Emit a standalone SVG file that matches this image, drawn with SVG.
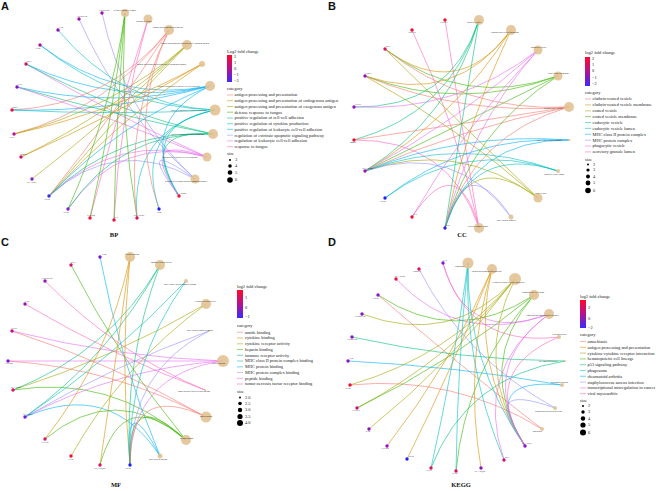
<svg xmlns="http://www.w3.org/2000/svg" width="656" height="491" viewBox="0 0 656 491">
<defs>
<linearGradient id="fc" x1="0" y1="0" x2="0" y2="1">
<stop offset="0" stop-color="#FF0A2A"/><stop offset="0.5" stop-color="#B5118F"/><stop offset="1" stop-color="#3A2AFF"/>
</linearGradient>
</defs>
<style>
.e{fill:none;stroke-width:.7;opacity:.85}
.k{stroke-width:1.1;opacity:.5}
.c1{stroke:#F8766D}.c2{stroke:#D89000}.c3{stroke:#A3A500}.c4{stroke:#39B600}.c5{stroke:#00BF7D}
.c6{stroke:#00BFC4}.c7{stroke:#00B0F6}.c8{stroke:#9590FF}.c9{stroke:#E76BF3}.c10{stroke:#FF62BC}
.cat{fill:#E3C293;opacity:.9}
text{font-family:"Liberation Serif",serif;fill:#111}
.n{font-size:2.2px;text-anchor:middle}
.cl{font-size:2.1px}
.lg{font-size:4.4px;fill:#1a1a1a}
.lt{font-size:4.5px;fill:#1a1a1a}
.ttl{font-size:6.5px;font-weight:bold;text-anchor:middle}
.pl{font-family:"Liberation Sans",sans-serif;font-size:11px;font-weight:bold}
</style>
<rect width="656" height="491" fill="#fff"/>

<text class="pl" x="1" y="10">A</text>
<text class="pl" x="328" y="10">B</text>
<text class="pl" x="1" y="246">C</text>
<text class="pl" x="328" y="246">D</text>
<text class="ttl" x="114" y="237">BP</text>
<text class="ttl" x="462" y="237">CC</text>
<text class="ttl" x="116" y="487">MF</text>
<text class="ttl" x="461" y="487">KEGG</text>

<!-- ===================== PANEL A ===================== -->
<g id="A-edges">
<path class="e c8" d="M102 13Q123.4 111.8 195 179"/>
<path class="e c8" d="M79 19Q120.5 112.5 195 179"/>
<path class="e c6" d="M58 30Q120.4 105.3 215 110"/>
<path class="e c6" d="M40 45Q118.1 107.1 215 110"/>
<path class="e c7" d="M40 45Q117.5 104.1 210 86"/>
<path class="e c9" d="M26 64Q115.4 115.4 207 157"/>
<path class="e c7" d="M26 64Q115.8 106.5 210 86"/>
<path class="e c5" d="M26 64Q116.1 112.5 213 134"/>
<path class="e c7" d="M17 87Q114.6 109.4 210 86"/>
<path class="e c5" d="M17 87Q115 115.4 213 134"/>
<path class="e c9" d="M17 87Q114.3 118.3 207 157"/>
<path class="e c1" d="M12 110Q108.9 105.3 169 30"/>
<path class="e c6" d="M12 110Q114.6 115.3 215 110"/>
<path class="e c7" d="M12 110Q114 112.3 210 86"/>
<path class="e c2" d="M14 134Q113.3 112.5 202 64"/>
<path class="e c1" d="M14 134Q109.1 108.3 169 30"/>
<path class="e c3" d="M14 134Q111.4 110.1 187 45"/>
<path class="e c3" d="M21 157Q112.3 113 187 45"/>
<path class="e c2" d="M21 157Q114.1 115.4 202 64"/>
<path class="e c3" d="M32 179Q113.6 115.8 187 45"/>
<path class="e c1" d="M49 196Q113.5 116 169 30"/>
<path class="e c2" d="M49 196Q117.6 120.3 202 64"/>
<path class="e c3" d="M49 196Q115.8 117.9 187 45"/>
<path class="e c7" d="M49 196Q118.6 123 210 86"/>
<path class="e c8" d="M49 196Q116.8 134.6 195 179"/>
<path class="e c9" d="M49 196Q118.3 131.9 207 157"/>
<path class="e c5" d="M49 196Q119 129 213 134"/>
<path class="e c9" d="M68 209Q120.6 133.5 207 157"/>
<path class="e c4" d="M68 209Q110.4 115.5 125 13"/>
<path class="e c5" d="M68 209Q121.4 130.6 213 134"/>
<path class="e c10" d="M90 218Q116 117.4 148 19"/>
<path class="e c4" d="M90 218Q113.1 116.6 125 13"/>
<path class="e c10" d="M114 220Q119 117.6 148 19"/>
<path class="e c4" d="M114 220Q116.1 116.9 125 13"/>
<path class="e c6" d="M137 218Q130.3 128.8 215 110"/>
<path class="e c4" d="M137 218Q119 116.6 125 13"/>
<path class="e c1" d="M137 218Q124.5 118.8 169 30"/>
<path class="e c1" d="M159 209Q127.3 117.6 169 30"/>
<path class="e c6" d="M159 209Q133 127.6 215 110"/>
<path class="e c7" d="M179 196Q134.9 123 210 86"/>
<path class="e c6" d="M179 196Q135.5 126 215 110"/>
<path class="e c5" d="M179 196Q135.3 129 213 134"/>
<path class="e c9" d="M179 196Q134.5 131.9 207 157"/>
<path class="e c8" d="M179 196Q133 134.6 195 179"/>
</g>
<g id="A-cat4"><circle class="cat" cx="125" cy="13" r="4"/><text class="cl" x="113.5" y="10.5">defense response to fungus</text></g>
<g id="A-cat10"><circle class="cat" cx="148" cy="19" r="4.5"/><text class="cl" x="136" y="21.5">response to fungus</text></g>
<g id="A-cat1"><circle class="cat" cx="169" cy="30" r="5"/><text class="cl" x="153" y="28">antigen processing and presentation</text></g>
<g id="A-cat3"><circle class="cat" cx="187" cy="45" r="5"/><text class="cl" x="161" y="43.5">antigen processing and presentation of exogenous antigen</text></g>
<g id="A-cat2"><circle class="cat" cx="202" cy="64" r="3"/><text class="cl" x="137" y="65">antigen processing and presentation of endogenous antigen</text></g>
<g id="A-cat7"><circle class="cat" cx="210" cy="86" r="5"/><text class="cl" x="158" y="87">positive regulation of leukocyte cell-cell adhesion</text></g>
<g id="A-cat6"><circle class="cat" cx="215" cy="110" r="5.5"/><text class="cl" x="171" y="111">positive regulation of cytokine production</text></g>
<g id="A-cat5"><circle class="cat" cx="213" cy="134" r="5"/><text class="cl" x="171" y="135">positive regulation of cell-cell adhesion</text></g>
<g id="A-cat9"><circle class="cat" cx="207" cy="157" r="4.5"/><text class="cl" x="163" y="158">regulation of leukocyte cell-cell adhesion</text></g>
<g id="A-cat8"><circle class="cat" cx="195" cy="179" r="4.5"/><text class="cl" x="165" y="182">regulation of extrinsic apoptotic signaling pathway</text></g>
<g id="A-g1"><circle cx="102" cy="13" r="1.7" fill="#A010B0"/><text class="n" x="104" y="10.5">TNFRSF1B</text></g>
<g id="A-g2"><circle cx="79" cy="19" r="1.7" fill="#A010B0"/><text class="n" x="82" y="16.5">TNFRSF14</text></g>
<g id="A-g3"><circle cx="58" cy="30" r="1.7" fill="#9010C0"/><text class="n" x="61" y="27.5">LTB</text></g>
<g id="A-g4"><circle cx="40" cy="45" r="1.7" fill="#B0108F"/><text class="n" x="38" y="49">IL1B</text></g>
<g id="A-g5"><circle cx="26" cy="64" r="1.7" fill="#D0106F"/><text class="n" x="29" y="61.5">SPP1</text></g>
<g id="A-g6"><circle cx="17" cy="87" r="1.7" fill="#8010D0"/><text class="n" x="20" y="84.5">FYN</text></g>
<g id="A-g7"><circle cx="12" cy="110" r="1.7" fill="#F01040"/><text class="n" x="15" y="107.5">SIRPA</text></g>
<g id="A-g8"><circle cx="14" cy="134" r="1.7" fill="#C0109F"/><text class="n" x="12" y="137.5">LCP1</text></g>
<g id="A-g9"><circle cx="21" cy="157" r="1.7" fill="#D01080"/><text class="n" x="23" y="154.5">CD274</text></g>
<g id="A-g10"><circle cx="32" cy="179" r="1.7" fill="#8020D0"/><text class="n" x="32" y="182.5">HLA-DRA</text></g>
<g id="A-g11"><circle cx="49" cy="196" r="1.7" fill="#3030F0"/><text class="n" x="47" y="199.5">CD74</text></g>
<g id="A-g12"><circle cx="68" cy="209" r="1.7" fill="#8020D0"/><text class="n" x="66" y="212.5">CTSS</text></g>
<g id="A-g13"><circle cx="90" cy="218" r="1.7" fill="#FF1030"/><text class="n" x="91" y="215.5">PTPN22</text></g>
<g id="A-g14"><circle cx="114" cy="220" r="1.7" fill="#F01040"/><text class="n" x="116" y="217.5">LYZ</text></g>
<g id="A-g15"><circle cx="137" cy="218" r="1.7" fill="#E01060"/><text class="n" x="139" y="215.5">HLA-DPB1</text></g>
<g id="A-g16"><circle cx="159" cy="209" r="1.7" fill="#2020FF"/><text class="n" x="159" y="212.5">CD4</text></g>
<g id="A-g17"><circle cx="179" cy="196" r="1.7" fill="#FF1030"/><text class="n" x="181" y="193.5">HLA-DRB1</text></g>
<g id="A-legend">
<text class="lt" x="227" y="53">Log2 fold change</text>
<rect x="227" y="55" width="5" height="27" fill="url(#fc)"/>
<text class="lg" x="234" y="58">2</text><text class="lg" x="234" y="63.5">1</text><text class="lg" x="234" y="69.5">0</text><text class="lg" x="234" y="75.5">−1</text><text class="lg" x="234" y="81.5">−2</text>
<text class="lt" x="227" y="89.5">category</text>
<path class="k c1" d="M227 95H233"/><text class="lg" x="234.5" y="96.4">antigen processing and presentation</text>
<path class="k c2" d="M227 100.7H233"/><text class="lg" x="234.5" y="102.1">antigen processing and presentation of endogenous antigen</text>
<path class="k c3" d="M227 106.5H233"/><text class="lg" x="234.5" y="107.9">antigen processing and presentation of exogenous antigen</text>
<path class="k c4" d="M227 112.2H233"/><text class="lg" x="234.5" y="113.6">defense response to fungus</text>
<path class="k c5" d="M227 118H233"/><text class="lg" x="234.5" y="119.4">positive regulation of cell-cell adhesion</text>
<path class="k c6" d="M227 123.7H233"/><text class="lg" x="234.5" y="125.1">positive regulation of cytokine production</text>
<path class="k c7" d="M227 129.4H233"/><text class="lg" x="234.5" y="130.8">positive regulation of leukocyte cell-cell adhesion</text>
<path class="k c8" d="M227 135.2H233"/><text class="lg" x="234.5" y="136.6">regulation of extrinsic apoptotic signaling pathway</text>
<path class="k c9" d="M227 140.9H233"/><text class="lg" x="234.5" y="142.3">regulation of leukocyte cell-cell adhesion</text>
<path class="k c10" d="M227 146.7H233"/><text class="lg" x="234.5" y="148.1">response to fungus</text>
<text class="lt" x="227" y="154.5">size</text>
<circle cx="230" cy="160" r="1"/><text class="lg" x="235" y="161.4">3</text>
<circle cx="230" cy="166" r="1.8"/><text class="lg" x="235" y="167.4">4</text>
<circle cx="230" cy="172.5" r="2.3"/><text class="lg" x="235" y="173.9">5</text>
<circle cx="230" cy="180" r="2.8"/><text class="lg" x="235" y="181.4">6</text>
</g>

<!-- ===================== PANEL B ===================== -->
<g id="B-edges">
<path class="e c10" d="M445 20Q461.3 124 479 228"/>
<path class="e c10" d="M412 30Q457.1 125.3 479 228"/>
<path class="e c2" d="M385 49Q457.8 102.9 511 30"/>
<path class="e c3" d="M385 49Q461.1 123.9 538 198"/>
<path class="e c4" d="M385 49Q463.6 108.6 558 76"/>
<path class="e c1" d="M385 49Q465 112.5 569 107"/>
<path class="e c2" d="M365 76Q455.3 106.3 511 30"/>
<path class="e c3" d="M365 76Q458.6 127.3 538 198"/>
<path class="e c4" d="M365 76Q461.1 112 558 76"/>
<path class="e c1" d="M365 76Q462.5 115.9 569 107"/>
<path class="e c5" d="M354 107Q449.9 108.9 479 20"/>
<path class="e c9" d="M354 107Q457.3 112.6 538 50"/>
<path class="e c5" d="M354 140Q449.9 113 479 20"/>
<path class="e c10" d="M354 140Q449.9 139 479 228"/>
<path class="e c1" d="M354 140Q461.1 123.9 569 107"/>
<path class="e c5" d="M365 171Q451.3 116.9 479 20"/>
<path class="e c2" d="M365 171Q455.3 118.1 511 30"/>
<path class="e c4" d="M365 171Q461.1 123.9 558 76"/>
<path class="e c9" d="M365 171Q458.6 120.6 538 50"/>
<path class="e c1" d="M365 171Q462.5 127.8 569 107"/>
<path class="e c7" d="M365 171Q462.5 131.9 569 140"/>
<path class="e c3" d="M365 171Q458.6 139.1 538 198"/>
<path class="e c8" d="M365 171Q455.3 141.5 511 217"/>
<path class="e c6" d="M365 171Q461.1 135.8 558 171"/>
<path class="e c7" d="M385 198Q465 135.3 569 140"/>
<path class="e c6" d="M385 198Q463.6 139.1 558 171"/>
<path class="e c10" d="M412 217Q457.1 148.6 479 228"/>
<path class="e c9" d="M412 217Q464.5 126.4 538 50"/>
<path class="e c5" d="M445 228Q461.3 124 479 20"/>
<path class="e c2" d="M445 228Q465.3 125.3 511 30"/>
<path class="e c4" d="M445 228Q471.1 131 558 76"/>
<path class="e c9" d="M445 228Q468.6 127.8 538 50"/>
<path class="e c1" d="M445 228Q472.5 134.9 569 107"/>
<path class="e c7" d="M445 228Q472.5 139 569 140"/>
<path class="e c3" d="M445 228Q468.6 146.3 538 198"/>
<path class="e c8" d="M445 228Q465.3 148.6 511 217"/>
<path class="e c6" d="M445 228Q471.1 142.9 558 171"/>
</g>
<g id="B-cat5"><circle class="cat" cx="479" cy="20" r="5"/><text class="cl" x="467" y="23">endocytic vesicle</text></g>
<g id="B-cat2"><circle class="cat" cx="511" cy="30" r="5"/><text class="cl" x="491" y="33">clathrin-coated vesicle membrane</text></g>
<g id="B-cat9"><circle class="cat" cx="538" cy="50" r="4.5"/><text class="cl" x="531" y="47.5">phagocytic vesicle</text></g>
<g id="B-cat4"><circle class="cat" cx="558" cy="76" r="4.5"/><text class="cl" x="548" y="74">coated vesicle membrane</text></g>
<g id="B-cat1"><circle class="cat" cx="569" cy="107" r="5"/><text class="cl" x="544" y="109">clathrin-coated vesicle</text></g>
<g id="B-cat7"><circle class="cat" cx="569" cy="140" r="1.3"/><text class="cl" x="537" y="141">MHC class II protein complex</text></g>
<g id="B-cat6"><circle class="cat" cx="558" cy="171" r="2"/><text class="cl" x="544" y="175">endocytic vesicle lumen</text></g>
<g id="B-cat3"><circle class="cat" cx="538" cy="198" r="4.5"/><text class="cl" x="535" y="193.5">coated vesicle</text></g>
<g id="B-cat8"><circle class="cat" cx="511" cy="217" r="2.5"/><text class="cl" x="497" y="221">MHC protein complex</text></g>
<g id="B-cat10"><circle class="cat" cx="479" cy="228" r="5"/><text class="cl" x="468" y="226.5">secretory granule lumen</text></g>
<g id="B-g1"><circle cx="445" cy="20" r="1.7" fill="#F01030"/><text class="n" x="444" y="23">CHI3L1</text></g>
<g id="B-g2"><circle cx="412" cy="30" r="1.7" fill="#F01030"/><text class="n" x="412" y="33">S100A8</text></g>
<g id="B-g3"><circle cx="385" cy="49" r="1.7" fill="#E0106A"/><text class="n" x="388" y="47">SPP1</text></g>
<g id="B-g4"><circle cx="365" cy="76" r="1.7" fill="#9A10C0"/><text class="n" x="368" y="74">LAMP3</text></g>
<g id="B-g5"><circle cx="354" cy="107" r="1.7" fill="#9A10C0"/><text class="n" x="358" y="105">CCL5</text></g>
<g id="B-g6"><circle cx="354" cy="140" r="1.7" fill="#F01030"/><text class="n" x="353" y="143">MMP9</text></g>
<g id="B-g7"><circle cx="365" cy="171" r="1.7" fill="#9A10C0"/><text class="n" x="368" y="169">HLA-DRB1</text></g>
<g id="B-g8"><circle cx="385" cy="198" r="1.7" fill="#2020FF"/><text class="n" x="383" y="201.5">CD74</text></g>
<g id="B-g9"><circle cx="412" cy="217" r="1.7" fill="#F01030"/><text class="n" x="415" y="215">LYZ</text></g>
<g id="B-g10"><circle cx="445" cy="228" r="1.7" fill="#3020F0"/><text class="n" x="447" y="226">CTSS</text></g>
<g id="B-legend">
<text class="lt" x="585" y="53.5">log2 fold change</text>
<rect x="585" y="57" width="5" height="29" fill="url(#fc)"/>
<text class="lg" x="592" y="60">2</text><text class="lg" x="592" y="65.5">1</text><text class="lg" x="592" y="72">0</text><text class="lg" x="592" y="78.5">−1</text><text class="lg" x="592" y="85">−2</text>
<text class="lt" x="585" y="94">category</text>
<path class="k c1" d="M585 99H591"/><text class="lg" x="592.5" y="100.4">clathrin-coated vesicle</text>
<path class="k c2" d="M585 104.9H591"/><text class="lg" x="592.5" y="106.3">clathrin-coated vesicle membrane</text>
<path class="k c3" d="M585 110.8H591"/><text class="lg" x="592.5" y="112.2">coated vesicle</text>
<path class="k c4" d="M585 116.6H591"/><text class="lg" x="592.5" y="118">coated vesicle membrane</text>
<path class="k c5" d="M585 122.5H591"/><text class="lg" x="592.5" y="123.9">endocytic vesicle</text>
<path class="k c6" d="M585 128.4H591"/><text class="lg" x="592.5" y="129.8">endocytic vesicle lumen</text>
<path class="k c7" d="M585 134.3H591"/><text class="lg" x="592.5" y="135.7">MHC class II protein complex</text>
<path class="k c8" d="M585 140.2H591"/><text class="lg" x="592.5" y="141.6">MHC protein complex</text>
<path class="k c9" d="M585 146H591"/><text class="lg" x="592.5" y="147.4">phagocytic vesicle</text>
<path class="k c10" d="M585 151.9H591"/><text class="lg" x="592.5" y="153.3">secretory granule lumen</text>
<text class="lt" x="585" y="160.5">size</text>
<circle cx="588" cy="164.5" r="1"/><text class="lg" x="593" y="165.9">2</text>
<circle cx="588" cy="170" r="1.6"/><text class="lg" x="593" y="171.4">3</text>
<circle cx="588" cy="176.5" r="2"/><text class="lg" x="593" y="177.9">4</text>
<circle cx="588" cy="183" r="2.4"/><text class="lg" x="593" y="184.4">5</text>
<circle cx="588" cy="190.5" r="2.8"/><text class="lg" x="593" y="191.9">6</text>
</g>

<!-- ===================== PANEL C ===================== -->
<g id="C-edges">
<path class="e c7" d="M100 257Q119.5 359.9 160 456"/>
<path class="e c4" d="M71 265Q119.1 358.9 186 440"/>
<path class="e c10" d="M45 281Q118.3 354.6 205 390"/>
<path class="e c10" d="M25 304Q115.8 357.5 205 390"/>
<path class="e c1" d="M12 331Q114.3 364.3 206 417"/>
<path class="e c9" d="M12 331Q116.4 357.3 223 361"/>
<path class="e c9" d="M8 361Q115.9 361 223 361"/>
<path class="e c1" d="M8 361Q113.8 368 206 417"/>
<path class="e c3" d="M13 390Q114.4 357.5 206 304"/>
<path class="e c5" d="M13 390Q108.6 352.6 160 265"/>
<path class="e c4" d="M13 390Q111.9 374.5 186 440"/>
<path class="e c5" d="M25 417Q110.1 356 160 265"/>
<path class="e c6" d="M25 417Q113.4 358 186 281"/>
<path class="e c8" d="M25 417Q116.3 364.3 209 331"/>
<path class="e c9" d="M25 417Q118 368 223 361"/>
<path class="e c7" d="M25 417Q110.1 379.9 160 456"/>
<path class="e c2" d="M45 439Q108.9 357.8 130 257"/>
<path class="e c4" d="M45 439Q115.9 380.6 186 440"/>
<path class="e c3" d="M71 456Q121.6 365.8 206 304"/>
<path class="e c2" d="M100 465Q115.8 361 130 257"/>
<path class="e c4" d="M100 465Q122.8 383.9 186 440"/>
<path class="e c2" d="M130 465Q119.5 361 130 257"/>
<path class="e c5" d="M130 465Q123.3 362 160 265"/>
<path class="e c6" d="M130 465Q126.5 364 186 281"/>
<path class="e c7" d="M130 465Q123.3 385.9 160 456"/>
<path class="e c8" d="M130 465Q129.4 370.3 209 331"/>
<path class="e c9" d="M130 465Q131.1 374 223 361"/>
<path class="e c1" d="M130 465Q129 381 206 417"/>
<path class="e c4" d="M130 465Q126.5 383.9 186 440"/>
</g>
<g id="C-cat2"><circle class="cat" cx="130" cy="257" r="5"/><text class="cl" x="125" y="255">cytokine binding</text></g>
<g id="C-cat5"><circle class="cat" cx="160" cy="265" r="5"/><text class="cl" x="151" y="263">immune receptor activity</text></g>
<g id="C-cat6"><circle class="cat" cx="186" cy="281" r="2"/><text class="cl" x="164" y="284.5">MHC class II protein complex binding</text></g>
<g id="C-cat3"><circle class="cat" cx="206" cy="304" r="5"/><text class="cl" x="195" y="302">cytokine receptor activity</text></g>
<g id="C-cat8"><circle class="cat" cx="209" cy="331" r="1"/><text class="cl" x="187" y="331">MHC protein complex binding</text></g>
<g id="C-cat9"><circle class="cat" cx="223" cy="361" r="6"/><text class="cl" x="212" y="363.5">peptide binding</text></g>
<g id="C-cat10"><circle class="cat" cx="205" cy="390" r="1"/><text class="cl" x="178" y="391.5">tumor necrosis factor receptor binding</text></g>
<g id="C-cat1"><circle class="cat" cx="206" cy="417" r="5.5"/><text class="cl" x="200" y="416.5">amide binding</text></g>
<g id="C-cat4"><circle class="cat" cx="186" cy="440" r="5"/><text class="cl" x="180" y="438.5">heparin binding</text></g>
<g id="C-cat7"><circle class="cat" cx="160" cy="456" r="2.5"/><text class="cl" x="149" y="459.5">MHC protein binding</text></g>
<g id="C-g1"><circle cx="100" cy="257" r="1.7" fill="#7A18D8"/><text class="n" x="104" y="254.5">CD4</text></g>
<g id="C-g2"><circle cx="71" cy="265" r="1.7" fill="#E0106A"/><text class="n" x="73" y="262.5">SPP1</text></g>
<g id="C-g3"><circle cx="45" cy="281" r="1.7" fill="#A010B0"/><text class="n" x="47" y="278.5">TNFRSF14</text></g>
<g id="C-g4"><circle cx="25" cy="304" r="1.7" fill="#9A10C0"/><text class="n" x="27" y="301.5">LTB</text></g>
<g id="C-g5"><circle cx="12" cy="331" r="1.7" fill="#C0108F"/><text class="n" x="14" y="328.5">CCL5</text></g>
<g id="C-g6"><circle cx="8" cy="361" r="1.7" fill="#7A18D8"/><text class="n" x="9" y="364">CXCR4</text></g>
<g id="C-g7"><circle cx="13" cy="390" r="1.7" fill="#E0106A"/><text class="n" x="16" y="387.5">HLA-DPB1</text></g>
<g id="C-g8"><circle cx="25" cy="417" r="1.7" fill="#7A18D8"/><text class="n" x="28" y="414.5">HLA-DRA</text></g>
<g id="C-g9"><circle cx="45" cy="439" r="1.7" fill="#E0106A"/><text class="n" x="45" y="442.5">CXCL8</text></g>
<g id="C-g10"><circle cx="71" cy="456" r="1.7" fill="#F01030"/><text class="n" x="71" y="459.5">IL1B</text></g>
<g id="C-g11"><circle cx="100" cy="465" r="1.7" fill="#E0106A"/><text class="n" x="100" y="468.5">HLA-DQB1</text></g>
<g id="C-g12"><circle cx="130" cy="465" r="1.7" fill="#2020FF"/><text class="n" x="128" y="468.5">CD74</text></g>
<g id="C-legend">
<text class="lt" x="237" y="288">log2 fold change</text>
<rect x="237" y="290" width="6" height="28" fill="url(#fc)"/>
<text class="lg" x="245" y="299">1</text><text class="lg" x="245" y="308.5">0</text><text class="lg" x="245" y="318">−1</text>
<text class="lt" x="237" y="327">category</text>
<path class="k c1" d="M237 332.3H243"/><text class="lg" x="245" y="333.7">amide binding</text>
<path class="k c2" d="M237 338H243"/><text class="lg" x="245" y="339.4">cytokine binding</text>
<path class="k c3" d="M237 343.8H243"/><text class="lg" x="245" y="345.2">cytokine receptor activity</text>
<path class="k c4" d="M237 349.5H243"/><text class="lg" x="245" y="350.9">heparin binding</text>
<path class="k c5" d="M237 355.3H243"/><text class="lg" x="245" y="356.7">immune receptor activity</text>
<path class="k c6" d="M237 361H243"/><text class="lg" x="245" y="362.4">MHC class II protein complex binding</text>
<path class="k c7" d="M237 366.8H243"/><text class="lg" x="245" y="368.2">MHC protein binding</text>
<path class="k c8" d="M237 372.5H243"/><text class="lg" x="245" y="373.9">MHC protein complex binding</text>
<path class="k c9" d="M237 378.3H243"/><text class="lg" x="245" y="379.7">peptide binding</text>
<path class="k c10" d="M237 384H243"/><text class="lg" x="245" y="385.4">tumor necrosis factor receptor binding</text>
<text class="lt" x="237" y="393">size</text>
<circle cx="240" cy="397.5" r="1"/><text class="lg" x="245" y="398.9">2.0</text>
<circle cx="240" cy="403.5" r="1.8"/><text class="lg" x="245" y="404.9">2.5</text>
<circle cx="240" cy="410" r="2.2"/><text class="lg" x="245" y="411.4">3.0</text>
<circle cx="240" cy="416.5" r="2.6"/><text class="lg" x="245" y="417.9">3.5</text>
<circle cx="240" cy="423" r="3"/><text class="lg" x="245" y="424.4">4.0</text>
</g>

<!-- ===================== PANEL D ===================== -->
<g id="D-edges">
<path class="e c9" d="M443 263Q466 345.1 549 314"/>
<path class="e c10" d="M443 263Q467.3 348 559 337"/>
<path class="e c8" d="M419 269Q463.8 357.6 555 408"/>
<path class="e c9" d="M396 279Q460.1 347.1 549 314"/>
<path class="e c4" d="M378 295Q456 346.8 534 295"/>
<path class="e c1" d="M378 295Q457 363.5 542 429"/>
<path class="e c3" d="M362 314Q451.6 347.1 515 279"/>
<path class="e c5" d="M352 337Q456.6 360.3 565 361"/>
<path class="e c7" d="M348 361Q455.8 366.3 562 385"/>
<path class="e c3" d="M350 385Q450.1 356 515 279"/>
<path class="e c1" d="M350 385Q453.5 374.8 542 429"/>
<path class="e c3" d="M357 408Q451 358.9 515 279"/>
<path class="e c4" d="M357 408Q453.4 360.9 534 295"/>
<path class="e c3" d="M369 429Q452.5 361.5 515 279"/>
<path class="e c2" d="M387 446Q451.9 362.4 492 269"/>
<path class="e c2" d="M407 459Q454.4 364 492 269"/>
<path class="e c6" d="M431 468Q454.4 364.4 468 263"/>
<path class="e c5" d="M431 468Q466.5 376.6 565 361"/>
<path class="e c4" d="M456 471Q465.8 368.8 534 295"/>
<path class="e c6" d="M456 471Q457.5 364.8 468 263"/>
<path class="e c2" d="M481 468Q463.6 365.1 492 269"/>
<path class="e c6" d="M504 460Q463.5 363.4 468 263"/>
<path class="e c9" d="M504 460Q473.6 369.8 549 314"/>
<path class="e c6" d="M525 446Q466.1 361.6 468 263"/>
<path class="e c2" d="M525 446Q469.1 362.4 492 269"/>
<path class="e c3" d="M525 446Q472 363.6 515 279"/>
<path class="e c4" d="M525 446Q474.4 365.6 534 295"/>
<path class="e c7" d="M525 446Q477.9 376.9 562 385"/>
<path class="e c8" d="M525 446Q477 379.8 555 408"/>
<path class="e c10" d="M525 446Q477.5 370.9 559 337"/>
<path class="e c9" d="M525 446Q476.3 368 549 314"/>
</g>
<g id="D-cat6"><circle class="cat" cx="468" cy="263" r="5.5"/><text class="cl" x="455" y="267">Phagosome</text></g>
<g id="D-cat2"><circle class="cat" cx="492" cy="269" r="5"/><text class="cl" x="471" y="272">Antigen processing and presentation</text></g>
<g id="D-cat3"><circle class="cat" cx="515" cy="279" r="6"/><text class="cl" x="492" y="282.5">Cytokine-cytokine receptor interaction</text></g>
<g id="D-cat4"><circle class="cat" cx="534" cy="295" r="5"/><text class="cl" x="522" y="293">Hematopoietic cell lineage</text></g>
<g id="D-cat9"><circle class="cat" cx="549" cy="314" r="5"/><text class="cl" x="526" y="316">Transcriptional misregulation in cancer</text></g>
<g id="D-cat10"><circle class="cat" cx="559" cy="337" r="2"/><text class="cl" x="552" y="334.5">Viral myocarditis</text></g>
<g id="D-cat5"><circle class="cat" cx="565" cy="361" r="1"/><text class="cl" x="539" y="361.5">p53 signaling pathway</text></g>
<g id="D-cat7"><circle class="cat" cx="562" cy="385" r="2"/><text class="cl" x="551" y="382.5">Rheumatoid arthritis</text></g>
<g id="D-cat8"><circle class="cat" cx="555" cy="408" r="2"/><text class="cl" x="535" y="411.5">Staphylococcus aureus infection</text></g>
<g id="D-cat1"><circle class="cat" cx="542" cy="429" r="2"/><text class="cl" x="532" y="431.5">Amoebiasis</text></g>
<g id="D-g1"><circle cx="443" cy="263" r="1.7" fill="#8A14C8"/><text class="n" x="445" y="260.5">FYN</text></g>
<g id="D-g2"><circle cx="419" cy="269" r="1.7" fill="#E01060"/><text class="n" x="417" y="272">HMOX1</text></g>
<g id="D-g3"><circle cx="396" cy="279" r="1.7" fill="#F01040"/><text class="n" x="400" y="277">HLA-DPB1</text></g>
<g id="D-g4"><circle cx="378" cy="295" r="1.7" fill="#8A14C8"/><text class="n" x="376" y="298.5">CD163</text></g>
<g id="D-g5"><circle cx="362" cy="314" r="1.7" fill="#8A14C8"/><text class="n" x="360" y="317">TNFRSF1B</text></g>
<g id="D-g6"><circle cx="352" cy="337" r="1.7" fill="#8A14C8"/><text class="n" x="352" y="340">TNFRSF14</text></g>
<g id="D-g7"><circle cx="348" cy="361" r="1.7" fill="#8A14C8"/><text class="n" x="351" y="358.5">LTB</text></g>
<g id="D-g8"><circle cx="350" cy="385" r="1.7" fill="#F01030"/><text class="n" x="348" y="388.5">IL1B</text></g>
<g id="D-g9"><circle cx="357" cy="408" r="1.7" fill="#D0107A"/><text class="n" x="356" y="411">CXCL8</text></g>
<g id="D-g10"><circle cx="369" cy="429" r="1.7" fill="#9010C0"/><text class="n" x="368" y="431.5">IL7R</text></g>
<g id="D-g11"><circle cx="387" cy="446" r="1.7" fill="#9A10C0"/><text class="n" x="385" y="449">CXCR4</text></g>
<g id="D-g12"><circle cx="407" cy="459" r="1.7" fill="#2020FF"/><text class="n" x="411" y="457">CD74</text></g>
<g id="D-g13"><circle cx="431" cy="468" r="1.7" fill="#E01060"/><text class="n" x="429" y="471">CTSS</text></g>
<g id="D-g14"><circle cx="456" cy="471" r="1.7" fill="#E01060"/><text class="n" x="455" y="474">CCL5</text></g>
<g id="D-g15"><circle cx="481" cy="468" r="1.7" fill="#8A14C8"/><text class="n" x="480" y="471.5">HLA-DQB1</text></g>
<g id="D-g16"><circle cx="504" cy="460" r="1.7" fill="#D0107A"/><text class="n" x="507" y="457.5">SPP1</text></g>
<g id="D-g17"><circle cx="525" cy="446" r="1.7" fill="#8A14C8"/><text class="n" x="527" y="443.5">HLA-DRA</text></g>
<g id="D-legend">
<text class="lt" x="580" y="298">log2 fold change</text>
<rect x="580" y="300" width="6" height="28" fill="url(#fc)"/>
<text class="lg" x="588" y="309">2</text><text class="lg" x="588" y="319.5">0</text><text class="lg" x="588" y="329">−2</text>
<text class="lt" x="580" y="336">category</text>
<path class="k c1" d="M580 341.5H586"/><text class="lg" x="587.5" y="342.9">amoebiasis</text>
<path class="k c2" d="M580 347.3H586"/><text class="lg" x="587.5" y="348.7">antigen processing and presentation</text>
<path class="k c3" d="M580 353.1H586"/><text class="lg" x="587.5" y="354.5">cytokine-cytokine receptor interaction</text>
<path class="k c4" d="M580 358.9H586"/><text class="lg" x="587.5" y="360.3">hematopoietic cell lineage</text>
<path class="k c5" d="M580 364.7H586"/><text class="lg" x="587.5" y="366.1">p53 signaling pathway</text>
<path class="k c6" d="M580 370.5H586"/><text class="lg" x="587.5" y="371.9">phagosome</text>
<path class="k c7" d="M580 376.3H586"/><text class="lg" x="587.5" y="377.7">rheumatoid arthritis</text>
<path class="k c8" d="M580 382.1H586"/><text class="lg" x="587.5" y="383.5">staphylococcus aureus infection</text>
<path class="k c9" d="M580 387.9H586"/><text class="lg" x="587.5" y="389.3">transcriptional misregulation in cancer</text>
<path class="k c10" d="M580 393.7H586"/><text class="lg" x="587.5" y="395.1">viral myocarditis</text>
<text class="lt" x="580" y="401.5">size</text>
<circle cx="583" cy="406" r="1"/><text class="lg" x="588" y="407.4">2</text>
<circle cx="583" cy="412" r="1.7"/><text class="lg" x="588" y="413.4">3</text>
<circle cx="583" cy="418.5" r="2.2"/><text class="lg" x="588" y="419.9">4</text>
<circle cx="583" cy="425" r="2.6"/><text class="lg" x="588" y="426.4">5</text>
<circle cx="583" cy="432.5" r="3"/><text class="lg" x="588" y="433.9">6</text>
</g>
</svg>
